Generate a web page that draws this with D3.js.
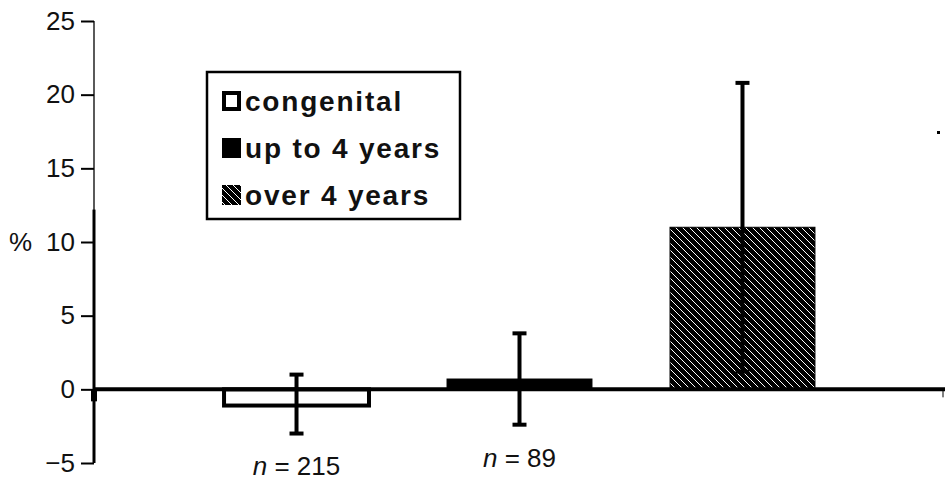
<!DOCTYPE html>
<html>
<head>
<meta charset="utf-8">
<script src="https://cdn.jsdelivr.net/npm/d3@7"></script>
<style>
  body { margin: 0; background: #fff; }
  svg { display: block; font-family: "Liberation Sans", Arial, Helvetica, sans-serif; }
</style>
</head>
<body>
<svg id="chart"></svg>
<script>
// data
const categories = ["congenital", "up to 4 years", "over 4 years"];
const means = [-1.1, 0.7, 11.0];
const errLow = [-3.0, -2.4, 1.2];
const errHigh = [1.0, 3.8, 20.8];
const nLabels = ["n = 215", "n = 89", ""];
const yTicks = [-5, 0, 5, 10, 15, 20, 25];
const fills = ["#fff", "#000", "url(#hatch)"];

const W = 946, H = 481;

const svg = d3.select("#chart")
    .attr("width", W)
    .attr("height", H);

// hatch pattern: black with white diagonal strokes
const defs = svg.append("defs");
const pat = defs.append("pattern")
    .attr("id", "hatch")
    .attr("patternUnits", "userSpaceOnUse")
    .attr("width", 7)
    .attr("height", 7);
pat.append("rect").attr("width", 7).attr("height", 7).attr("fill", "#000");
pat.append("path")
    .attr("d", "M-1,-1 L8,8 M-1,6 L1,8 M6,-1 L8,1")
    .attr("stroke", "#fff")
    .attr("stroke-width", 1);

const axisX = 94;

const y = d3.scaleLinear()
    .domain([-5, 25])
    .range([463, 21]);

const x = d3.scaleBand()
    .domain(categories)
    .range([146, 893])
    .padding(0.35);

// y axis
const yAxis = svg.append("g")
    .attr("transform", "translate(" + axisX + ",0)")
    .call(d3.axisLeft(y).tickValues(yTicks).tickSize(13).tickFormat(d => d < 0 ? "\u2212" + Math.abs(d) : d));
yAxis.attr("font-size", null).attr("font-family", null);
yAxis.select(".domain").attr("stroke-width", 1.3).attr("d", "M0," + y(25) + "V" + y(-5));
yAxis.selectAll(".tick line").attr("stroke-width", 2);
yAxis.selectAll(".tick text")
    .style("font-size", "26px")
    .attr("fill", "#111")
    .attr("x", -19);

// thicker lower part of the axis
svg.append("line")
    .attr("x1", axisX).attr("x2", axisX)
    .attr("y1", y(12.2)).attr("y2", y(-5))
    .attr("stroke", "#000")
    .attr("stroke-width", 3);

svg.append("text")
    .attr("x", 9)
    .attr("y", y(10))
    .attr("dy", "0.35em")
    .style("font-size", "26px")
    .attr("fill", "#111")
    .text("%");

// bars
svg.selectAll(".bar")
    .data(categories)
    .join("rect")
    .attr("class", "bar")
    .attr("x", d => x(d))
    .attr("width", x.bandwidth())
    .attr("y", (d, i) => y(Math.max(0, means[i])))
    .attr("height", (d, i) => Math.abs(y(means[i]) - y(0)))
    .attr("fill", (d, i) => fills[i])
    .attr("stroke", "#000")
    .attr("stroke-width", (d, i) => i === 0 ? 4 : 1);

// zero line
svg.append("line")
    .attr("x1", axisX).attr("x2", 945)
    .attr("y1", y(0)).attr("y2", y(0))
    .attr("stroke", "#000")
    .attr("stroke-width", 4);
svg.append("line")
    .attr("x1", 943).attr("x2", 943)
    .attr("y1", y(0)).attr("y2", y(0) + 8)
    .attr("stroke", "#000")
    .attr("stroke-width", 1);
svg.append("rect")
    .attr("x", axisX - 3).attr("y", y(0))
    .attr("width", 6).attr("height", 12)
    .attr("fill", "#000");

// error bars
const eb = svg.selectAll(".err")
    .data(categories)
    .join("g")
    .attr("class", "err")
    .attr("transform", d => "translate(" + (x(d) + x.bandwidth() / 2) + ",0)");
eb.append("line")
    .attr("y1", (d, i) => y(errLow[i]))
    .attr("y2", (d, i) => y(errHigh[i]))
    .attr("stroke", "#000")
    .attr("stroke-width", 4);
eb.append("line")
    .attr("x1", -7).attr("x2", 7)
    .attr("y1", (d, i) => y(errHigh[i])).attr("y2", (d, i) => y(errHigh[i]))
    .attr("stroke", "#000")
    .attr("stroke-width", 4);
eb.append("line")
    .attr("x1", -7).attr("x2", 7)
    .attr("y1", (d, i) => y(errLow[i])).attr("y2", (d, i) => y(errLow[i]))
    .attr("stroke", "#000")
    .attr("stroke-width", 4);

// n labels
svg.selectAll(".nlab")
    .data(categories)
    .join("text")
    .attr("class", "nlab")
    .attr("x", d => x(d) + x.bandwidth() / 2)
    .attr("y", (d, i) => i === 0 ? 475 : 467)
    .attr("text-anchor", "middle")
    .style("font-size", "26px")
    .attr("fill", "#111")
    .each(function (d, i) {
        if (!nLabels[i]) return;
        const t = d3.select(this);
        const parts = nLabels[i].split(" = ");
        t.append("tspan").attr("font-style", "italic").text(parts[0]);
        t.append("tspan").text(" = " + parts[1]);
    });

// legend
const legend = svg.append("g").attr("transform", "translate(207,72)");
legend.append("rect")
    .attr("width", 253)
    .attr("height", 147)
    .attr("fill", "#fff")
    .attr("stroke", "#000")
    .attr("stroke-width", 2.5);
const rows = legend.selectAll(".lrow")
    .data(categories)
    .join("g")
    .attr("class", "lrow")
    .attr("transform", (d, i) => "translate(15," + (29 + i * 47) + ")");
rows.append("rect")
    .attr("x", (d, i) => i === 0 ? 2 : 0)
    .attr("y", (d, i) => i === 0 ? -8 : -10)
    .attr("width", (d, i) => i === 0 ? 15 : 19)
    .attr("height", (d, i) => i === 0 ? 16 : 20)
    .attr("fill", (d, i) => fills[i])
    .attr("stroke", "#000")
    .attr("stroke-width", (d, i) => i === 0 ? 4 : 0);
rows.append("text")
    .attr("x", 23)
    .attr("dy", "0.36em")
    .style("font-size", "28px")
    .style("letter-spacing", "1.8px")
    .attr("font-weight", "bold")
    .attr("fill", "#111")
    .text(d => d);

// stray scan dot at right
svg.append("rect")
    .attr("x", 937).attr("y", 131)
    .attr("width", 3).attr("height", 3)
    .attr("fill", "#000");
</script>
</body>
</html>
